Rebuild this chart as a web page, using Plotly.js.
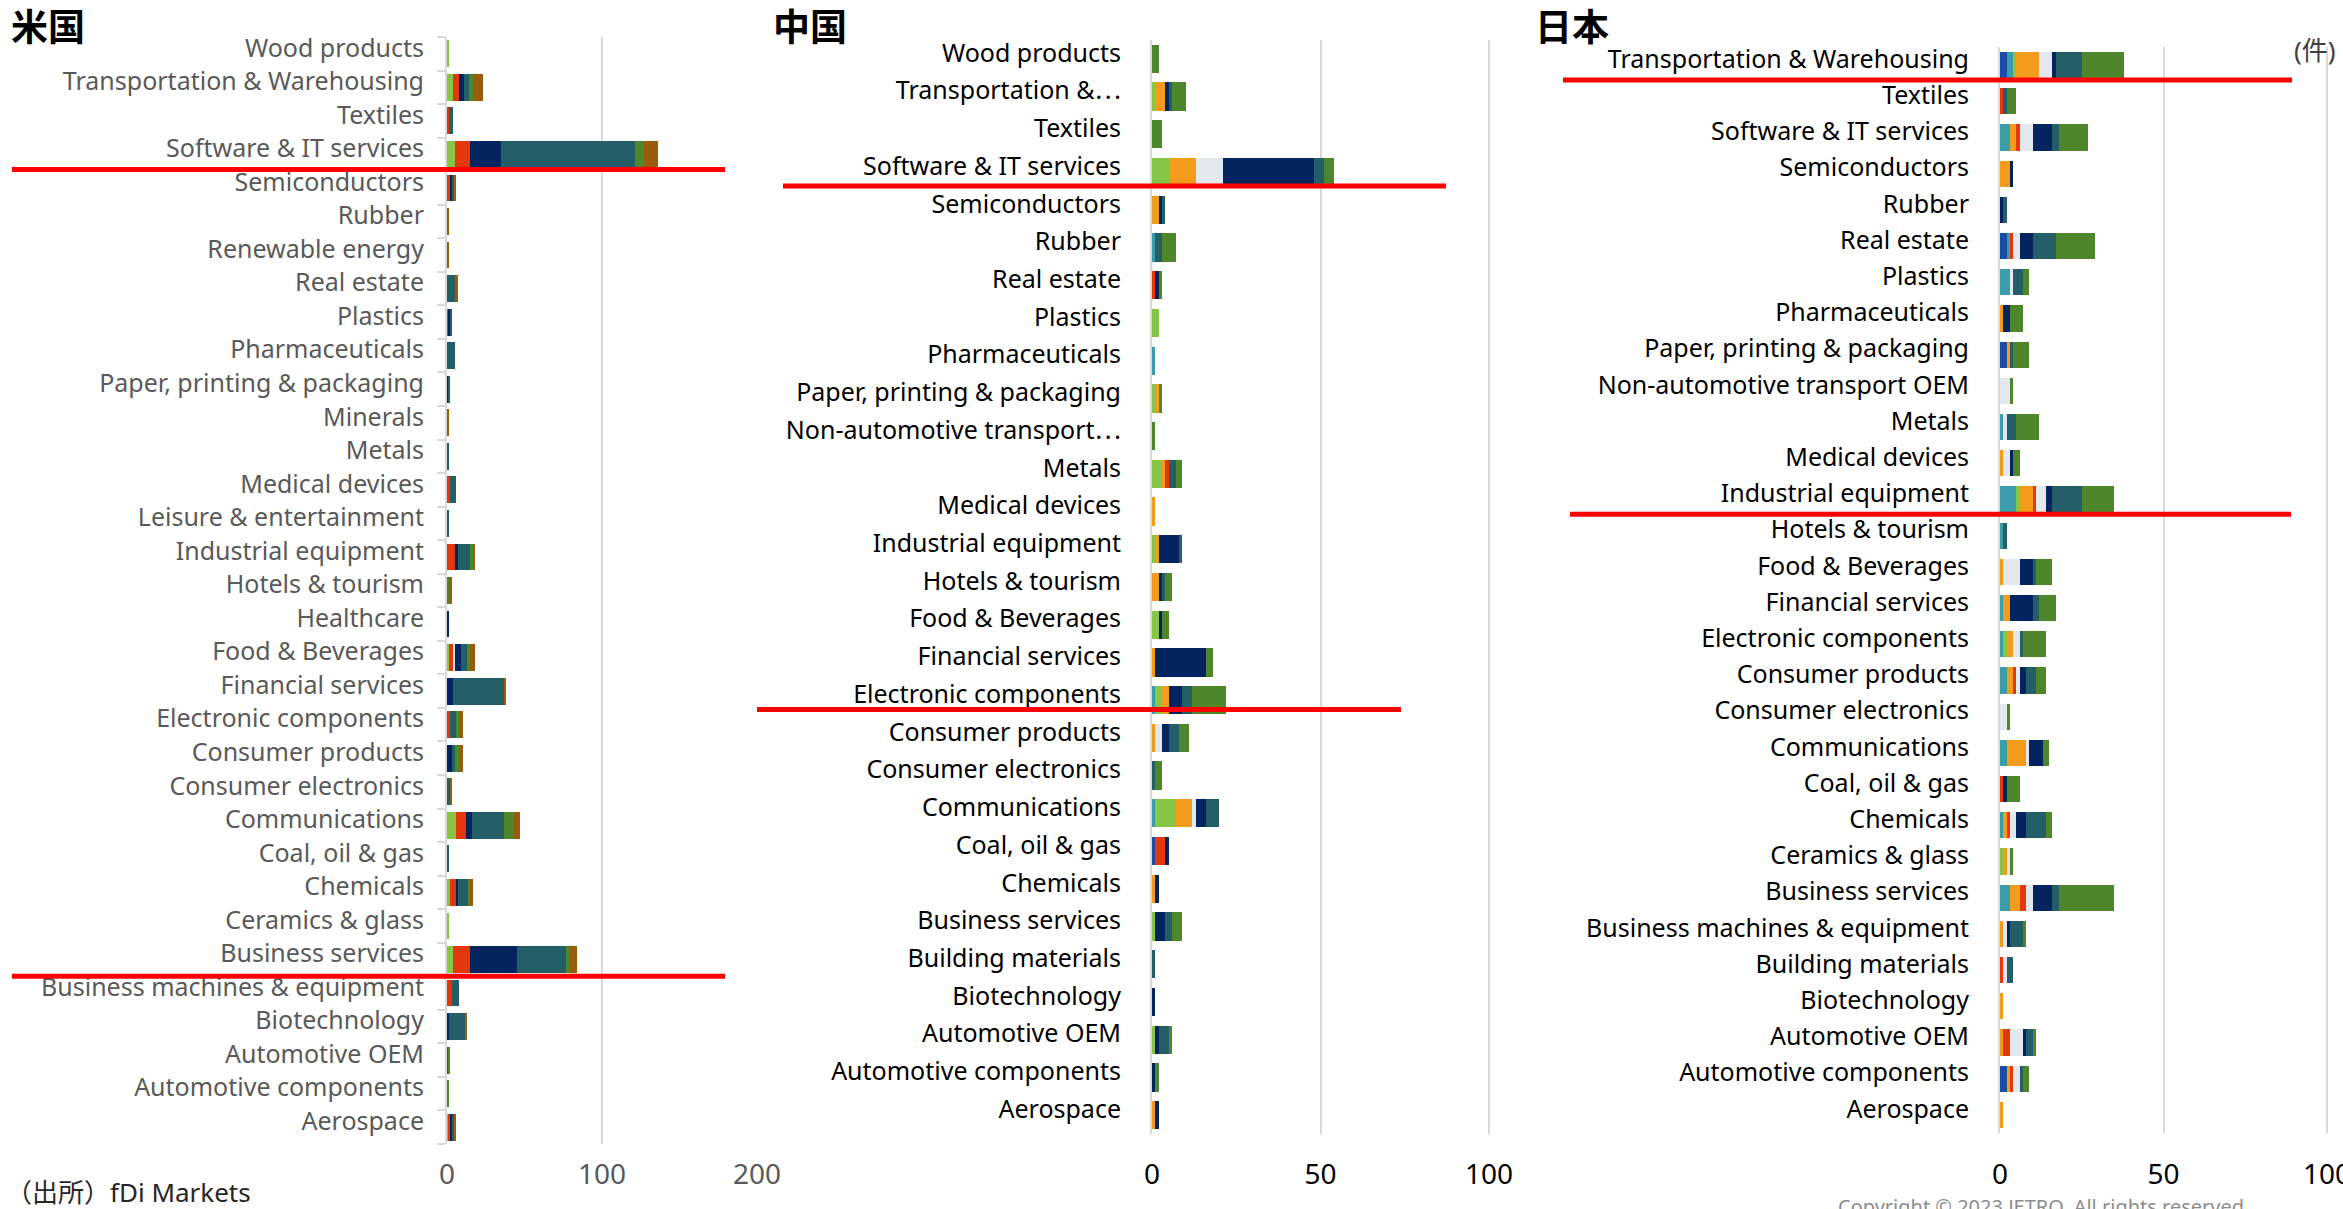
<!DOCTYPE html>
<html>
<head>
<meta charset="utf-8">
<script src="https://cdn.plot.ly/plotly-3.0.1.min.js"></script>
<style>
html,body{margin:0;padding:0;background:#fff;}
#chart{width:2343px;height:1209px;}
</style>
</head>
<body>
<div id="chart"></div>
<script>
// ---------- series (stack order, left to right) ----------
const SERIES_NAMES = ['区分1','区分2','区分3','区分4','区分5','区分6','区分7','区分8','区分9','区分10'];
const SERIES_COLORS = ['#1A4DA6','#3A9DA8','#86C545','#F39C1C','#E2380C','#E3E7EE','#03245F','#245E67','#4E862B','#9A5C0B'];

// ---------- 米国 ----------
const US_CATS = ['Wood products','Transportation & Warehousing','Textiles','Software & IT services','Semiconductors','Rubber','Renewable energy','Real estate','Plastics','Pharmaceuticals','Paper, printing & packaging','Minerals','Metals','Medical devices','Leisure & entertainment','Industrial equipment','Hotels & tourism','Healthcare','Food & Beverages','Financial services','Electronic components','Consumer products','Consumer electronics','Communications','Coal, oil & gas','Chemicals','Ceramics & glass','Business services','Business machines & equipment','Biotechnology','Automotive OEM','Automotive components','Aerospace'];
const US_S1  = [0,0,0,0,0,0,0,0,0,0,0,0,0,0,0,0,0,0,0,0,0,0,0,0,0,0,0,0,0,0,0,0,0];
const US_S2  = [0,0,0,0,0,0,0,0,0,0,0,0,0,0,0,0,0,0,0,0,0,0,0,0,0,0,0,0,0,0,0,0,0];
const US_S3  = [1,4,0,5,0,0,0,0,0,0,0,0,0,0,0,0,0,0,1,0,0,0,0,6,0,2,1,4,0,0,0,0,1];
const US_S4  = [0,0,0,0,0,0,0,0,0,0,0,0,0,0,0,0,0,0,0,0,0,0,0,0,0,0,0,0,0,0,0,0,0];
const US_S5  = [0,4,1,10,2,0,0,0,1,0,0,0,0,2,0,5,0,0,3,0,2,0,0,6,0,4,0,11,3,0,0,0,1];
const US_S6  = [0,0,0,0,0,0,0,0,0,0,0,0,0,0,0,0,0,0,1,0,0,0,0,0,0,0,0,0,0,0,0,0,0];
const US_S7  = [0,3,0,20,1,0,0,0,1,0,1,0,0,0,0,2,0,1,4,4,0,3,0,4,0,1,0,30,0,1,0,0,1];
const US_S8  = [0,3,3,86,2,0,0,5,1,5,1,0,1,4,1,8,0,0,4,33,4,2,2,21,1,7,0,32,5,11,1,0,2];
const US_S9  = [0,3,0,6,0,0,0,0,0,0,0,0,0,0,0,2,1,0,2,0,2,3,0,6,0,1,0,2,0,0,1,1,0];
const US_S10 = [0,6,0,9,1,1,1,2,0,0,0,1,0,0,0,1,2,0,3,1,2,2,1,4,0,2,0,5,0,1,0,0,1];

// ---------- 中国 ----------
const CN_CATS = ['Wood products','Transportation &…','Textiles','Software & IT services','Semiconductors','Rubber','Real estate','Plastics','Pharmaceuticals','Paper, printing & packaging','Non-automotive transport…','Metals','Medical devices','Industrial equipment','Hotels & tourism','Food & Beverages','Financial services','Electronic components','Consumer products','Consumer electronics','Communications','Coal, oil & gas','Chemicals','Business services','Building materials','Biotechnology','Automotive OEM','Automotive components','Aerospace'];
const CN_S1  = [0,0,0,0,0,0,0,0,0,0,0,0,0,0,0,0,0,0,0,0,0,1,0,0,0,0,0,0,0];
const CN_S2  = [0,0,0,0,0,1,0,0,1,0,0,0,0,0,0,0,0,1,0,0,1,0,0,0,0,0,0,0,0];
const CN_S3  = [0,1,0,5,0,0,0,2,0,1,0,3,0,1,0,2,0,2,0,0,6,0,0,1,0,0,1,0,0];
const CN_S4  = [0,3,0,8,2,0,0,0,0,1,0,1,1,1,2,0,1,2,1,0,5,0,1,0,0,0,0,0,1];
const CN_S5  = [0,0,0,0,0,0,1,0,0,0,0,1,0,0,0,0,0,0,0,0,0,3,0,0,0,0,0,0,0];
const CN_S6  = [0,0,0,8,0,0,0,0,0,0,0,0,0,0,0,0,0,0,2,0,1,0,0,0,0,0,0,0,0];
const CN_S7  = [0,1,0,27,1,0,1,0,0,0,0,0,0,6,1,1,15,4,2,0,3,1,1,3,0,1,1,1,1];
const CN_S8  = [0,1,0,3,1,2,0,0,0,0,0,2,0,1,1,0,0,3,3,1,4,0,0,2,1,0,3,0,0];
const CN_S9  = [2,4,3,3,0,4,1,0,0,1,1,2,0,0,2,2,2,10,3,2,0,0,0,3,0,0,1,1,0];
const CN_S10 = [0,0,0,0,0,0,0,0,0,0,0,0,0,0,0,0,0,0,0,0,0,0,0,0,0,0,0,0,0];

// ---------- 日本 ----------
const JP_CATS = ['Transportation & Warehousing','Textiles','Software & IT services','Semiconductors','Rubber','Real estate','Plastics','Pharmaceuticals','Paper, printing & packaging','Non-automotive transport OEM','Metals','Medical devices','Industrial equipment','Hotels & tourism','Food & Beverages','Financial services','Electronic components','Consumer products','Consumer electronics','Communications','Coal, oil & gas','Chemicals','Ceramics & glass','Business services','Business machines & equipment','Building materials','Biotechnology','Automotive OEM','Automotive components','Aerospace'];
const JP_S1  = [2,0,0,0,0,2,0,0,2,0,0,0,0,0,0,0,0,0,0,0,0,0,0,0,0,0,0,0,2,0];
const JP_S2  = [2,0,3,0,0,1,3,0,0,0,1,0,5,1,0,1,1,2,0,2,0,1,0,3,0,0,0,0,0,0];
const JP_S3  = [1,0,0,0,0,0,0,0,0,0,0,0,1,0,0,0,1,0,0,0,0,0,1,0,0,0,0,0,0,0];
const JP_S4  = [7,0,2,3,0,0,0,1,1,0,0,1,4,0,1,2,2,2,0,6,0,1,1,3,1,0,1,1,1,1];
const JP_S5  = [0,1,1,0,0,1,0,0,0,0,0,0,1,0,0,0,0,1,0,0,1,1,0,2,0,1,0,2,1,0];
const JP_S6  = [4,0,4,0,0,2,1,0,0,3,1,2,3,0,5,0,2,1,2,1,0,2,1,2,1,1,0,4,2,0];
const JP_S7  = [1,0,6,1,1,4,0,2,0,0,0,1,2,0,4,7,0,2,0,4,1,3,0,6,1,0,0,1,0,0];
const JP_S8  = [8,1,2,0,1,7,3,0,1,0,3,0,9,1,1,2,1,3,0,0,0,6,0,2,4,2,0,2,1,0];
const JP_S9  = [13,3,9,0,0,12,2,4,5,1,7,2,10,0,5,5,7,3,1,2,4,2,1,17,1,0,0,1,2,0];
const JP_S10 = [0,0,0,0,0,0,0,0,0,0,0,0,0,0,0,0,0,0,0,0,0,0,0,0,0,0,0,0,0,0];

const PANEL_TITLES = ['米国','中国','日本'];
const X_MAX = [200, 100, 100];
const X_DTICKS = [100, 50, 50];

// ---------- build ----------
const W = 2343, H = 1209;
const px = v => v / W;
const py = v => 1 - v / H;

// zero pixel and pixel of X_MAX for each panel; ranges get a small pad so the last gridline shows
const X_PIX = [[447, 757], [1152, 1489], [2000, 2327]];
const PAD = 0.6; // data units past the last tick

const panels = [
  {cats: US_CATS, series: [US_S1,US_S2,US_S3,US_S4,US_S5,US_S6,US_S7,US_S8,US_S9,US_S10], xa:'x',  ya:'y',  barW:0.8},
  {cats: CN_CATS, series: [CN_S1,CN_S2,CN_S3,CN_S4,CN_S5,CN_S6,CN_S7,CN_S8,CN_S9,CN_S10], xa:'x2', ya:'y2', barW:0.75},
  {cats: JP_CATS, series: [JP_S1,JP_S2,JP_S3,JP_S4,JP_S5,JP_S6,JP_S7,JP_S8,JP_S9,JP_S10], xa:'x3', ya:'y3', barW:0.72}
];

const traces = [];
panels.forEach(p => {
  p.series.forEach((vals, i) => {
    traces.push({
      type: 'bar', orientation: 'h',
      name: SERIES_NAMES[i],
      x: vals, y: p.cats,
      xaxis: p.xa, yaxis: p.ya,
      width: p.barW,
      marker: {color: SERIES_COLORS[i], line: {width: 0}},
      showlegend: false,
      hoverinfo: 'x+y+name'
    });
  });
});

const FONT = 'Noto Sans, "Noto Sans CJK JP", sans-serif';
// the source draws its truncation ellipsis vertically centred
const MID_ELLIPSIS = s => s.replace('…', '⋯');

function yAxis(domainPx, anchor, color, withTicks, standoff, cats) {
  return {
    type: 'category', autorange: 'reversed',
    domain: [py(domainPx[1]), py(domainPx[0])],
    anchor: anchor,
    tickmode: 'array', tickvals: cats, ticktext: cats.map(MID_ELLIPSIS),
    showline: true, linecolor: '#d9d9d9', linewidth: 2,
    ticks: withTicks ? 'outside' : '', tickson: 'boundaries',
    ticklen: 8, tickwidth: 2, tickcolor: '#d9d9d9',
    ticklabelstandoff: standoff,
    ticklabelshift: 6,
    showgrid: false, zeroline: false,
    tickfont: {family: FONT, size: 25, color: color}
  };
}
function xAxis(i, anchor, color, standoff) {
  const z = X_PIX[i][0], e = X_PIX[i][1];
  const scale = (e - z) / X_MAX[i];
  const hi = X_MAX[i] + PAD;
  return {
    domain: [px(z), px(z + hi * scale)],
    anchor: anchor, range: [0, hi], dtick: X_DTICKS[i], tick0: 0,
    showgrid: true, gridcolor: '#d9d9d9', gridwidth: 2,
    zeroline: false, showline: false, ticks: '',
    ticklabelstandoff: standoff,
    ticklabeloverflow: 'allow',
    tickfont: {family: FONT, size: 28, color: color}
  };
}

const redLine = (yref, yv, x0, x1) => ({
  type: 'line', xref: 'paper', yref: yref,
  x0: px(x0), x1: px(x1), y0: yv, y1: yv,
  line: {color: '#FF0000', width: 5}, layer: 'above'
});

const titleAnn = (text, xpx) => ({
  text: '<b>' + text + '</b>', xref: 'paper', yref: 'paper',
  x: px(xpx), y: py(27), xanchor: 'left', yanchor: 'middle',
  showarrow: false, font: {family: FONT, size: 37, color: '#000'}
});

const layout = {
  width: W, height: H,
  margin: {l: 0, r: 0, t: 0, b: 0, pad: 0},
  paper_bgcolor: '#fff', plot_bgcolor: 'rgba(0,0,0,0)',
  barmode: 'stack', showlegend: false,
  font: {family: FONT},
  xaxis:  xAxis(0, 'y',  '#595959', 11),
  yaxis:  yAxis([37, 1144], 'x',  '#595959', true, 16, US_CATS),
  xaxis2: xAxis(1, 'y2', '#000', 21),
  yaxis2: yAxis([40, 1134], 'x2', '#000', false, 24, CN_CATS),
  xaxis3: xAxis(2, 'y3', '#000', 22),
  yaxis3: yAxis([47, 1133], 'x3', '#000', false, 24, JP_CATS),
  shapes: [
    redLine('y', 3.45, 12, 725),
    redLine('y', 27.5, 12, 725),
    redLine('y2', 3.37, 783, 1446),
    redLine('y2', 17.25, 757, 1401),
    redLine('y3', 0.41, 1563, 2292),
    redLine('y3', 12.41, 1570, 2291)
  ],
  annotations: [
    titleAnn(PANEL_TITLES[0], 9),
    titleAnn(PANEL_TITLES[1], 771),
    titleAnn(PANEL_TITLES[2], 1533),
    {text: '(件)', xref: 'paper', yref: 'paper', x: px(2292), y: py(50), xanchor: 'left', yanchor: 'middle',
     showarrow: false, font: {family: FONT, size: 26, color: '#404040'}},
    {text: '（出所）fDi Markets', xref: 'paper', yref: 'paper', x: px(4), y: py(1192), xanchor: 'left', yanchor: 'middle',
     showarrow: false, font: {family: FONT, size: 26, color: '#262626'}},
    {text: 'Copyright © 2023 JETRO. All rights reserved.', xref: 'paper', yref: 'paper', x: px(1836), y: py(1206), xanchor: 'left', yanchor: 'middle',
     showarrow: false, font: {family: FONT, size: 20, color: '#8c8c8c'}}
  ]
};

Plotly.newPlot('chart', traces, layout, {displayModeBar: false, responsive: false});
</script>
</body>
</html>
